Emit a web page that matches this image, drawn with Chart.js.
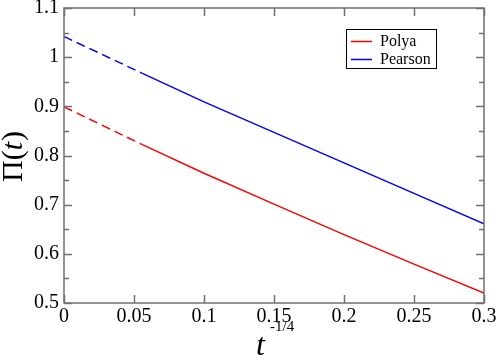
<!DOCTYPE html>
<html><head><meta charset="utf-8">
<script src="https://cdn.jsdelivr.net/npm/chart.js@4"></script>
<style>html,body{margin:0;padding:0;background:#fff}#wrap{width:498px;height:355px}</style>
</head><body><div id="wrap"><canvas id="c" width="498" height="355"></canvas></div>
<script>
const seriesNames = ['Polya', 'Pearson'];
const seriesColors = ['#ff0000', '#0000ff'];
const xValues = [0, 0.056, 0.1, 0.15, 0.2, 0.25, 0.3];
const polya   = [0.899, 0.822, 0.764, 0.701, 0.639, 0.579, 0.520];
const pearson = [1.042, 0.967, 0.909, 0.847, 0.785, 0.723, 0.661];
const dashEnd = 0.056;
const xTickValues = [0, 0.05, 0.1, 0.15, 0.2, 0.25, 0.3];
const xTickLabels = ['0', '0.05', '0.1', '0.15', '0.2', '0.25', '0.3'];
const yTickValues = [0.5, 0.6, 0.7, 0.8, 0.9, 1.0, 1.1];
const yTickLabels = ['0.5', '0.6', '0.7', '0.8', '0.9', '1', '1.1'];
const yMinorValues = [0.55, 0.65, 0.75, 0.85, 0.95, 1.05];

const SERIF = '"Liberation Serif", "DejaVu Serif", serif';

function mkDataset(label, vals, color) {
  return {
    label: label,
    data: xValues.map((x, i) => ({x: x, y: vals[i]})),
    borderColor: color,
    backgroundColor: color,
    borderWidth: 1.5,
    pointRadius: 0,
    fill: false,
    tension: 0,
    segment: {
      borderDash: ctx => (ctx.p1.parsed.x <= dashEnd + 1e-9 ? [9, 5] : undefined)
    }
  };
}

const decor = {
  id: 'decor',
  afterDraw(chart) {
    const ctx = chart.ctx;
    const a = chart.chartArea;
    const xs = chart.scales.x, ys = chart.scales.y;
    ctx.save();
    // frame
    ctx.strokeStyle = '#707070';
    ctx.lineWidth = 1.5;
    ctx.strokeRect(a.left, a.top, a.right - a.left, a.bottom - a.top);
    // ticks
    ctx.beginPath();
    xTickValues.forEach(v => {
      const px = Math.round(xs.getPixelForValue(v)) + 0.5;
      ctx.moveTo(px, a.bottom); ctx.lineTo(px, a.bottom - 8);
      ctx.moveTo(px, a.top); ctx.lineTo(px, a.top + 8);
    });
    yTickValues.forEach(v => {
      const py = Math.round(ys.getPixelForValue(v)) + 0.5;
      ctx.moveTo(a.left, py); ctx.lineTo(a.left + 8, py);
      ctx.moveTo(a.right, py); ctx.lineTo(a.right - 8, py);
    });
    yMinorValues.forEach(v => {
      const py = Math.round(ys.getPixelForValue(v)) + 0.5;
      ctx.moveTo(a.left, py); ctx.lineTo(a.left + 5, py);
      ctx.moveTo(a.right, py); ctx.lineTo(a.right - 5, py);
    });
    ctx.stroke();

    // legend
    ctx.strokeStyle = '#000';
    ctx.lineWidth = 1;
    ctx.strokeRect(346.5, 29.5, 90, 39);
    const ly = [41, 59];
    chart.data.datasets.forEach((ds, i) => {
      ctx.strokeStyle = ds.borderColor;
      ctx.lineWidth = 1.5;
      ctx.beginPath();
      ctx.moveTo(351, ly[i] + 0.5); ctx.lineTo(372, ly[i] + 0.5);
      ctx.stroke();
      ctx.fillStyle = '#000';
      ctx.font = '16px ' + SERIF;
      ctx.textBaseline = 'middle';
      ctx.textAlign = 'left';
      ctx.fillText(ds.label, 380, ly[i] + 1);
    });

    // x title: t^{-1/4}
    ctx.fillStyle = '#000';
    ctx.textBaseline = 'alphabetic';
    ctx.textAlign = 'left';
    ctx.font = 'italic 32px ' + SERIF;
    ctx.fillText('t', 256, 355);
    ctx.font = '15px ' + SERIF;
    ctx.fillText('-1/4', 270, 331);

    // y title: Π(t)
    ctx.translate(22, 157);
    ctx.rotate(-Math.PI / 2);
    const p1 = 'Π(';
    ctx.font = '30px ' + SERIF;
    const w1 = ctx.measureText(p1).width;
    ctx.font = 'italic 30px ' + SERIF;
    const w2 = ctx.measureText('t').width;
    ctx.font = '30px ' + SERIF;
    const w3 = ctx.measureText(')').width;
    let sx = -(w1 + w2 + w3) / 2;
    ctx.fillText(p1, sx, 0);
    ctx.font = 'italic 30px ' + SERIF;
    ctx.fillText('t', sx + w1, 0);
    ctx.font = '30px ' + SERIF;
    ctx.fillText(')', sx + w1 + w2 + 1, 0);
    ctx.restore();
  }
};

new Chart(document.getElementById('c'), {
  type: 'line',
  data: {
    datasets: [
      mkDataset(seriesNames[0], polya, seriesColors[0]),
      mkDataset(seriesNames[1], pearson, seriesColors[1])
    ]
  },
  options: {
    responsive: false,
    animation: false,
    layout: {padding: {top: 8, right: 14, left: 0, bottom: 0}},
    plugins: {legend: {display: false}, tooltip: {enabled: false}},
    scales: {
      x: {
        type: 'linear', min: 0, max: 0.3,
        afterBuildTicks: s => { s.ticks = xTickValues.map(v => ({value: v})); },
        afterFit: s => { s.height = 52; s.paddingLeft = 0; s.paddingRight = 0; },
        ticks: {
          font: {family: SERIF, size: 20}, color: '#000', padding: 2,
          maxRotation: 0, autoSkip: false,
          callback: (v, i) => xTickLabels[i]
        },
        grid: {display: false, drawTicks: false},
        border: {display: false}
      },
      y: {
        type: 'linear', min: 0.5, max: 1.1,
        afterBuildTicks: s => { s.ticks = yTickValues.map(v => ({value: v})); },
        afterFit: s => { s.width = 64; s.paddingTop = 0; s.paddingBottom = 0; },
        ticks: {
          font: {family: SERIF, size: 20}, color: '#000', padding: 5,
          autoSkip: false,
          callback: (v, i) => yTickLabels[i]
        },
        grid: {display: false, drawTicks: false},
        border: {display: false}
      }
    }
  },
  plugins: [decor]
});
</script>
</body></html>
